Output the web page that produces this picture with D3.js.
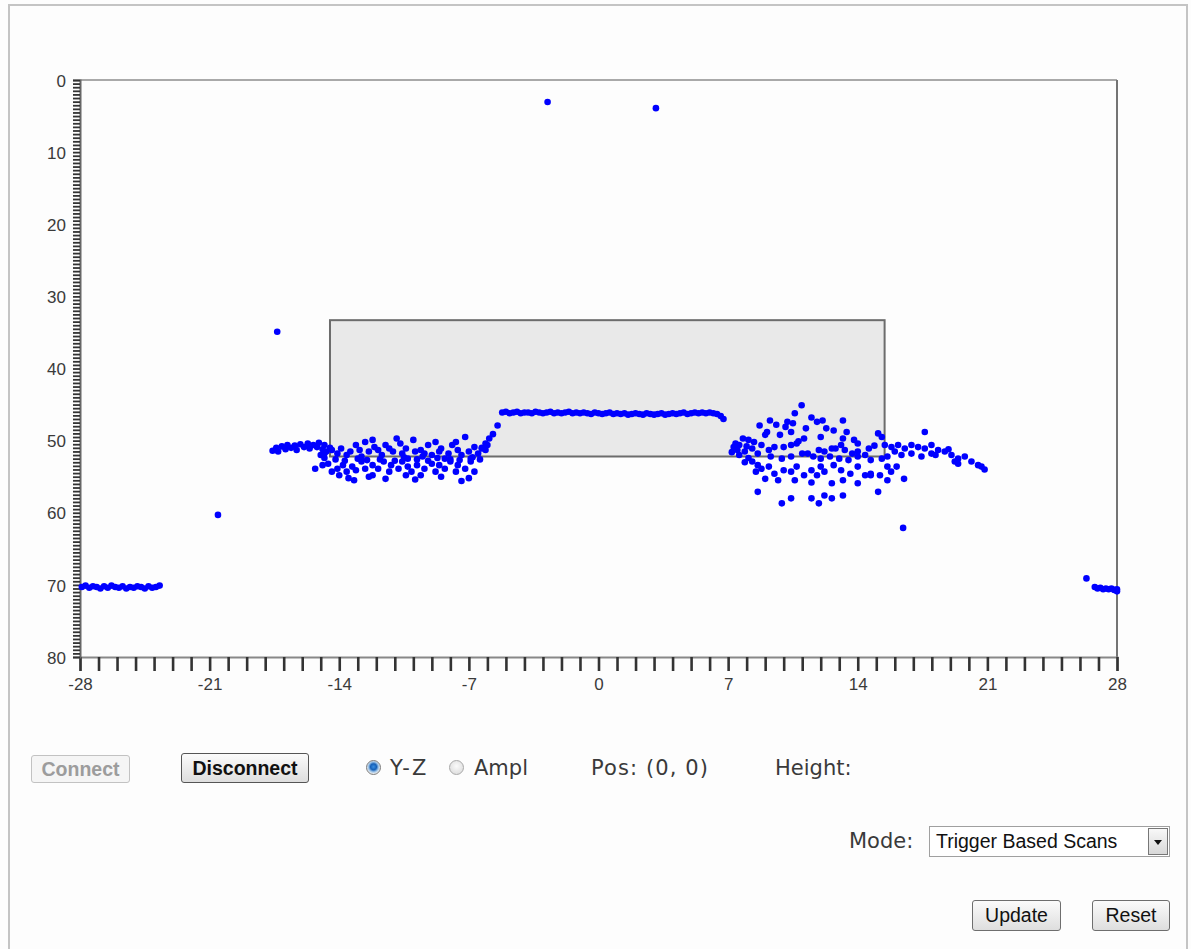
<!DOCTYPE html>
<html lang="en">
<head>
  <meta charset="UTF-8" />
  <title>Scanner – Y-Z profile</title>
  <script src="https://d3js.org/d3.v7.min.js"></script>
  <style>
    body {
      margin: 0;
      background: #fdfdfd;
      width: 1191px;
      height: 949px;
      overflow: hidden;
      position: relative;
    }
    #frame {
      position: absolute;
      left: 8px;
      top: 4px;
      width: 1176px;
      height: 1000px;
      border: 2px solid #c4c4c4;
      background: #fdfdfd;
    }
    svg {
      position: absolute;
      left: 0;
      top: 0;
    }
    .tick text {
      font-family: "Liberation Sans", Arial, sans-serif;
      font-size: 17px;
      fill: #3a3a3a;
    }
    .btn {
      position: absolute;
      box-sizing: border-box;
      font-family: "Liberation Sans", Arial, sans-serif;
      font-size: 19.5px;
      text-align: center;
      color: #111;
      border: 1px solid #6e6e6e;
      border-radius: 3px;
      background: linear-gradient(#fbfbfb, #dedede);
    }
    .lbl {
      position: absolute;
      font-family: "DejaVu Sans", Verdana, sans-serif;
      font-size: 21px;
      color: #3a3a3a;
      line-height: 22px;
      white-space: nowrap;
    }
    .radio {
      position: absolute;
      width: 15px;
      height: 15px;
      border-radius: 50%;
      box-sizing: border-box;
    }
  </style>
</head>
<body>
<div id="frame"></div>
<svg id="chart" width="1191" height="949"></svg>

<div class="btn" style="left:31px;top:755px;width:99px;height:28px;line-height:26px;font-weight:bold;color:#9c9c9c;border-color:#c2c2c2;background:#f5f5f5;">Connect</div>
<div class="btn" style="left:181px;top:753px;width:128px;height:30px;line-height:28px;font-weight:bold;border-color:#555;">Disconnect</div>

<div class="radio" style="left:366px;top:760px;border:1px solid #7a7a7a;background:radial-gradient(circle at 50% 45%, #3a8ee0 0, #1560b8 3px, #9cc2e6 5px, #f0f0f0 7px);"></div>
<div class="lbl" style="left:390px;top:757px;letter-spacing:2px;">Y-Z</div>
<div class="radio" style="left:449px;top:760px;border:1px solid #a8a8a8;background:radial-gradient(circle at 50% 40%, #fafafa 0, #e2e2e2 7px);"></div>
<div class="lbl" style="left:474px;top:757px;">Ampl</div>
<div class="lbl" style="left:591px;top:757px;letter-spacing:1.1px;">Pos: (0, 0)</div>
<div class="lbl" style="left:775px;top:757px;">Height:</div>

<div class="lbl" style="left:849px;top:830px;">Mode:</div>
<div style="position:absolute;left:929px;top:826px;width:241px;height:31px;box-sizing:border-box;border:1px solid #a0a0a0;background:#fff;">
  <span style="position:absolute;left:6px;top:3px;font-family:'Liberation Sans',Arial,sans-serif;font-size:19.5px;color:#111;">Trigger Based Scans</span>
  <div style="position:absolute;right:1px;top:1px;width:20px;height:27px;box-sizing:border-box;border:1px solid #777;background:linear-gradient(#f8f8f8,#d8d8d8);">
    <div style="position:absolute;left:5px;top:11px;width:0;height:0;border-left:4px solid transparent;border-right:4px solid transparent;border-top:5px solid #111;"></div>
  </div>
</div>

<div class="btn" style="left:972px;top:900px;width:89px;height:31px;line-height:29px;">Update</div>
<div class="btn" style="left:1092px;top:900px;width:78px;height:31px;line-height:29px;">Reset</div>

<script>
// axis ranges
const xDomain = [-28, 28];
const yDomain = [0, 80];
const xTickStep = 1, xLabelStep = 7;
const yTickStep = 0.5, yLabelStep = 10;

// shaded target zone
const zoneX = [-14.5, 15.45];
const zoneY = [33.3, 52.2];

// scan points [y, z]
const leftFloor = [
  [-27.9,70.3],[-27.7,70.1],[-27.5,70.4],[-27.3,70.2],[-27.1,70.3],[-26.9,70.5],[-26.7,70.2],[-26.5,70.4],
  [-26.3,70.1],[-26.1,70.3],[-25.9,70.4],[-25.7,70.2],[-25.5,70.5],[-25.3,70.3],[-25.1,70.4],[-24.9,70.2],
  [-24.7,70.3],[-24.5,70.5],[-24.3,70.2],[-24.1,70.4],[-23.9,70.3],[-23.7,70.1]
];
const leftStrays = [[-20.55,60.3],[-17.35,34.9]];
const leftShelf = [
  [-17.6,51.4],[-17.4,51.0],[-17.3,51.5],[-17.1,50.8],[-16.9,51.2],[-16.8,50.6],[-16.6,51.0],[-16.4,50.7],
  [-16.3,51.3],[-16.1,50.5],[-15.9,50.9],[-15.7,50.4],[-15.6,51.1],[-15.4,50.6],[-15.2,50.9],[-15.1,50.3],
  [-14.9,51.2],[-14.8,50.6],[-14.7,51.5],[-14.5,51.0],[-15.0,52.0],[-14.8,51.8]
];
const leftScatter = [
  [-14.4,51.3],[-14.1,51.8],[-13.9,51.1],[-13.6,52.0],[-13.4,51.5],[-13.1,50.6],[-12.9,51.3],[-12.8,52.2],
  [-12.6,50.2],[-12.4,51.5],[-12.2,49.9],[-12.1,50.9],[-11.9,51.3],[-11.7,52.0],[-11.5,50.6],[-11.3,51.1],
  [-11.1,51.5],[-10.9,49.7],[-10.7,50.4],[-10.6,51.8],[-10.4,51.1],[-10.3,52.5],[-10.0,49.9],[-9.9,51.5],
  [-9.6,51.3],[-9.5,52.2],[-9.4,51.8],[-9.2,50.6],[-9.0,52.0],[-8.8,50.2],[-8.6,51.5],[-8.5,51.1],
  [-8.3,52.5],[-8.1,51.8],[-7.9,50.6],[-7.7,50.2],[-7.6,51.3],[-7.4,52.0],[-7.2,49.5],[-7.0,51.5],
  [-6.9,52.5],[-6.7,50.9],[-6.5,51.8],[-6.3,51.1],[-6.1,51.3],[-6.0,50.6],
  [-15.3,53.9],[-14.9,53.4],[-14.6,53.2],[-14.4,54.3],[-14.1,53.9],[-14.0,54.8],[-13.8,53.4],[-13.6,54.3],
  [-13.5,55.2],[-13.3,53.6],[-13.1,54.1],[-12.8,52.9],[-12.6,53.9],[-12.2,54.8],[-12.2,53.4],[-11.9,53.9],
  [-11.6,52.9],[-11.3,54.3],[-11.2,53.4],[-10.8,53.9],[-10.6,52.9],[-10.4,54.8],[-10.3,53.6],[-10.1,54.3],
  [-9.8,53.4],[-9.6,54.8],[-9.4,53.9],[-9.0,53.2],[-8.8,54.3],[-8.6,53.4],[-8.3,53.9],[-8.0,52.9],
  [-7.7,54.3],[-7.6,53.4],[-7.2,53.9],[-7.0,55.2],[-6.9,52.9],[-6.7,54.3],
  [-14.8,52.4],[-14.2,52.6],[-13.7,52.8],[-13.0,52.5],[-12.5,52.7],[-11.8,52.6],[-11.0,52.8],[-10.5,52.3],
  [-9.8,52.6],[-9.2,52.8],[-8.7,52.4],[-8.0,52.6],[-7.5,52.7],[-6.8,52.3],[-6.4,52.6],
  [-13.2,55.5],[-12.4,55.0],[-11.5,55.3],[-9.9,55.4],[-8.5,55.0],[-7.4,55.6]
];
const ramp = [[-6.3,51.0],[-6.1,50.4],[-5.9,49.7],[-5.7,49.1],[-5.45,47.9]];
const topFlat = [
  [-5.2,46.1],[-5.0,46.0],[-4.8,46.2],[-4.6,46.1],[-4.4,46.0],[-4.2,46.2],[-4.0,46.1],[-3.8,46.1],
  [-3.6,46.2],[-3.4,46.0],[-3.2,46.1],[-3.0,46.2],[-2.8,46.1],[-2.6,46.0],[-2.4,46.2],[-2.2,46.1],
  [-2.0,46.2],[-1.8,46.1],[-1.6,46.0],[-1.4,46.2],[-1.2,46.1],[-1.0,46.2],[-0.8,46.1],[-0.6,46.2],
  [-0.4,46.3],[-0.2,46.1],[0.0,46.2],[0.2,46.3],[0.4,46.2],[0.6,46.1],[0.8,46.3],[1.0,46.2],
  [1.2,46.3],[1.4,46.2],[1.6,46.4],[1.8,46.3],[2.0,46.2],[2.2,46.3],[2.4,46.4],[2.6,46.2],
  [2.8,46.3],[3.0,46.4],[3.2,46.3],[3.4,46.2],[3.6,46.4],[3.8,46.3],[4.0,46.2],[4.2,46.3],
  [4.4,46.2],[4.6,46.1],[4.8,46.3],[5.0,46.2],[5.2,46.1],[5.4,46.2],[5.6,46.1],[5.8,46.2],
  [6.0,46.1],[6.2,46.2],[6.4,46.3],[6.6,46.6],[6.75,47.0]
];
const topStrays = [[-2.75,3.05],[3.1,3.9]];
const rightScatter = [
  [10.97,45.1],[10.6,46.2],[9.26,47.2],[10.2,47.4],[10.5,47.6],[11.8,47.4],[12.1,47.2],[13.2,47.2],
  [8.7,47.9],[10.1,48.1],[11.2,48.3],[12.3,48.3],[9.1,48.8],[9.0,49.2],[9.8,49.2],[10.4,48.8],
  [11.1,49.7],[12.0,49.5],[13.4,48.8],[13.2,49.7],[15.1,49.0],[15.3,49.5],
  [7.8,49.7],[8.1,49.9],[7.4,50.4],[8.4,50.2],[8.8,50.6],[9.5,50.9],[10.0,50.9],[10.4,50.6],[10.7,50.4],
  [12.6,51.1],[13.1,50.6],[14.0,50.4],[7.5,51.3],[7.9,51.5],[8.3,51.1],[14.6,51.1],
  [9.2,51.3],[11.3,51.8],[11.9,51.3],[12.2,51.5],[12.8,51.1],[13.3,51.3],[13.7,51.8],[14.0,51.5],[14.4,52.0],
  [7.6,52.0],[8.6,51.8],[9.3,52.2],[9.9,52.5],[10.4,52.2],[11.0,51.8],[11.6,52.2],[12.0,52.5],
  [12.5,52.2],[13.0,52.5],[13.5,52.7],[14.0,52.2],[14.7,52.7],[15.3,52.5],[15.6,52.2],
  [8.3,52.9],[8.6,53.4],[8.8,53.9],[8.5,54.3],[9.2,53.6],[9.5,54.6],[10.0,54.1],[10.4,54.3],
  [10.7,53.6],[11.1,54.8],[11.5,54.1],[12.0,53.6],[12.2,54.3],[12.7,53.4],[13.1,54.1],[13.6,54.6],
  [14.0,53.6],[14.4,54.8],[14.7,54.6],[15.2,54.8],[15.6,53.6],[15.8,54.3],[16.1,53.6],
  [9.0,55.3],[9.7,55.5],[10.6,55.5],[11.5,55.8],[11.8,54.8],[12.6,55.9],[13.2,55.5],[14.0,55.9],
  [14.7,54.8],[15.6,55.5],[16.5,55.3],
  [8.6,57.1],[9.9,58.7],[10.4,58.0],[11.5,58.0],[11.9,58.7],[12.2,57.6],[12.6,58.0],[13.2,57.6],[15.1,57.1],
  [7.3,50.9],[7.6,50.6],[8.0,50.8],[7.2,51.6],[8.1,52.4],[7.9,53.0],
  [9.6,47.8],[11.5,46.8],[12.7,48.6],[10.8,50.1],[13.8,49.9],[14.9,50.7]
];
const rightTail = [
  [15.46,50.6],[15.82,50.9],[16.18,50.6],[16.54,51.1],[16.9,50.6],[17.26,50.9],[17.62,48.8],[17.62,51.1],
  [17.98,50.6],[18.34,51.3],[18.7,51.5],[17.98,51.8],[17.44,52.2],[16.9,51.8],[16.36,52.0],[16.0,51.5],
  [19.06,52.0],[19.42,52.5],[19.78,52.2],[19.24,52.9],[20.14,52.9],[20.5,53.4],[20.68,53.6],[19.42,53.2],
  [20.85,54.0],[18.2,52.0],[18.9,51.2]
];
const rightStrays = [[16.45,62.1],[26.35,69.1]];
const rightFloor = [
  [26.8,70.3],[26.95,70.5],[27.1,70.4],[27.25,70.6],[27.4,70.5],[27.55,70.6],[27.7,70.5],[27.85,70.7],[28.0,70.6],[28.0,70.9]
];

const points = [].concat(leftFloor, leftStrays, leftShelf, leftScatter, ramp,
  topFlat, topStrays, rightScatter, rightTail, rightStrays, rightFloor);

const svg = d3.select("#chart");
const x = d3.scaleLinear().domain(xDomain).range([80, 1117]);
const y = d3.scaleLinear().domain(yDomain).range([80, 657]);

// plot frame (top + right)
svg.append("line")
  .attr("x1", x(xDomain[0])).attr("x2", x(xDomain[1]))
  .attr("y1", y(yDomain[0])).attr("y2", y(yDomain[0]))
  .attr("stroke", "#a9a9a9").attr("stroke-width", 2);
svg.append("line")
  .attr("x1", x(xDomain[1])).attr("x2", x(xDomain[1]))
  .attr("y1", y(yDomain[0])).attr("y2", y(yDomain[1]))
  .attr("stroke", "#747474").attr("stroke-width", 2);

// target zone
svg.append("rect")
  .attr("x", x(zoneX[0]))
  .attr("y", y(zoneY[0]))
  .attr("width", x(zoneX[1]) - x(zoneX[0]))
  .attr("height", y(zoneY[1]) - y(zoneY[0]))
  .attr("fill", "#e9e9e9")
  .attr("stroke", "#6c6c6c")
  .attr("stroke-width", 2);

// axes
const xAxis = d3.axisBottom(x)
  .tickValues(d3.range(xDomain[0], xDomain[1] + xTickStep / 2, xTickStep))
  .tickSize(14)
  .tickPadding(7)
  .tickFormat(d => d % xLabelStep === 0 ? String(d) : "");
const gx = svg.append("g")
  .attr("transform", `translate(0,${y(yDomain[1])})`)
  .call(xAxis);
gx.select(".domain").attr("stroke", "#888").attr("stroke-width", 2);
gx.selectAll(".tick line").attr("stroke", "#333").attr("stroke-width", 2.6);

const yAxis = d3.axisLeft(y)
  .tickValues(d3.range(yDomain[0], yDomain[1] + yTickStep / 2, yTickStep))
  .tickSize(7)
  .tickPadding(7)
  .tickFormat(d => d % yLabelStep === 0 ? String(d) : "");
const gy = svg.append("g")
  .attr("transform", `translate(${x(xDomain[0])},0)`)
  .call(yAxis);
gy.select(".domain").attr("stroke", "#666").attr("stroke-width", 2);
gy.selectAll(".tick line").attr("stroke", "#333").attr("stroke-width", 1.8);
gy.selectAll(".tick text").attr("dy", "0.36em");

// scan points
svg.append("g")
  .selectAll("circle")
  .data(points)
  .join("circle")
  .attr("cx", d => x(d[0]))
  .attr("cy", d => y(d[1]))
  .attr("r", 3.3)
  .attr("fill", "#0000ff");
</script>
</body>
</html>
